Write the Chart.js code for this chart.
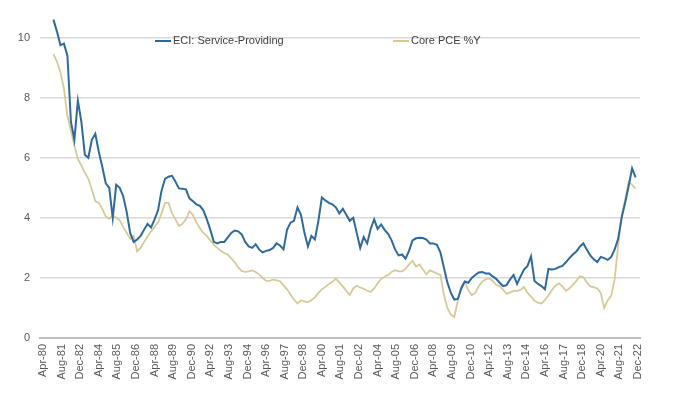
<!DOCTYPE html>
<html lang="en">
<head>
    <meta charset="UTF-8">
    <title>ECI Service-Providing vs Core PCE</title>
    <script src="https://cdn.jsdelivr.net/npm/chart.js"></script>
    <style>
        body {
            margin: 0;
            background: #ffffff;
        }
        #wrap {
            width: 700px;
            height: 394px;
        }
    </style>
</head>
<body>
    <div id="wrap"><canvas id="chart"></canvas></div>

    <script>
        // x axis: months counted from Apr-80, one label every 16 months
        const tickLabels = ['Apr-80', 'Aug-81', 'Dec-82', 'Apr-84', 'Aug-85', 'Dec-86', 'Apr-88', 'Aug-89',
            'Dec-90', 'Apr-92', 'Aug-93', 'Dec-94', 'Apr-96', 'Aug-97', 'Dec-98', 'Apr-00', 'Aug-01',
            'Dec-02', 'Apr-04', 'Aug-05', 'Dec-06', 'Apr-08', 'Aug-09', 'Dec-10', 'Apr-12', 'Aug-13',
            'Dec-14', 'Apr-16', 'Aug-17', 'Dec-18', 'Apr-20', 'Aug-21', 'Dec-22'];
        const labelStep = 16;
        const firstMonth = 9; // Jan-81, then quarterly
        const seriesNames = ['ECI: Service-Providing', 'Core PCE %Y'];
        const yTicks = [0, 2, 4, 6, 8, 10];

        // quarterly values, Jan-81 .. Oct-22
        const eci = [
            10.6, 10.2, 9.75, 9.8,   9.4, 7.2, 6.6, 7.9,   7.2, 6.1, 6.0, 6.6,   6.8, 6.2, 5.7, 5.15,
            5.0, 4.0, 5.1, 5.0,      4.72, 4.2, 3.5, 3.2,  3.28, 3.4, 3.6, 3.8,  3.68, 3.95, 4.25, 4.9,
            5.3, 5.37, 5.4, 5.2,     4.98, 4.97, 4.95, 4.65, 4.55, 4.45, 4.4, 4.25, 3.95, 3.6, 3.2, 3.15,
            3.2, 3.2, 3.35, 3.5,     3.58, 3.55, 3.45, 3.2, 3.05, 3.0, 3.12, 2.95, 2.85, 2.9, 2.93, 3.0,
            3.15, 3.08, 2.95, 3.6,   3.84, 3.9, 4.35, 4.1, 3.5, 3.05, 3.4, 3.28,  3.9, 4.68, 4.58, 4.5,
            4.45, 4.35, 4.15, 4.3,   4.1, 3.9, 4.0, 3.5,   3.0, 3.36, 3.15, 3.63, 3.95, 3.63, 3.78, 3.6,
            3.47, 3.25, 2.95, 2.75,  2.78, 2.64, 2.9, 3.25, 3.32, 3.34, 3.33, 3.28, 3.15, 3.15, 3.1, 2.85,
            2.35, 1.85, 1.5, 1.28,   1.3, 1.65, 1.88, 1.84, 2.0, 2.1, 2.18, 2.2,  2.15, 2.15, 2.05, 1.97,
            1.84, 1.73, 1.76, 1.95,  2.1, 1.8, 2.05, 2.28, 2.4, 2.72, 1.9, 1.8,   1.73, 1.62, 2.3, 2.28,
            2.3, 2.36, 2.4, 2.52,    2.66, 2.78, 2.88, 3.04, 3.15, 2.95, 2.75, 2.62, 2.53, 2.7, 2.66, 2.6,
            2.7, 2.95, 3.3, 4.0,     4.5, 5.05, 5.65, 5.35
        ];
        const corePce = [
            9.45, 9.2, 8.85, 8.3,    7.4, 6.9, 6.4, 5.95,  5.75, 5.5, 5.3, 4.95,  4.55, 4.5, 4.3, 4.05,
            3.97, 4.08, 4.0, 3.92,   3.7, 3.5, 3.3, 3.4,   2.88, 3.0, 3.2, 3.38,  3.55, 3.7, 3.85, 4.15,
            4.5, 4.5, 4.15, 3.95,    3.73, 3.8, 3.95, 4.22, 4.1, 3.85, 3.65, 3.5, 3.4, 3.25, 3.1, 3.0,
            2.9, 2.83, 2.78, 2.65,   2.52, 2.35, 2.23, 2.2, 2.22, 2.25, 2.2, 2.12, 2.0, 1.9, 1.9, 1.94,
            1.92, 1.89, 1.75, 1.62,  1.45, 1.28, 1.15, 1.25, 1.22, 1.2, 1.26, 1.35, 1.5, 1.62, 1.7, 1.8,
            1.87, 1.97, 1.85, 1.72,  1.57, 1.43, 1.65, 1.74, 1.68, 1.64, 1.58, 1.53, 1.65, 1.82, 1.97, 2.04,
            2.1, 2.2, 2.26, 2.22,    2.22, 2.3, 2.45, 2.57, 2.38, 2.45, 2.28, 2.12, 2.25, 2.2, 2.15, 2.1,
            1.45, 1.0, 0.78, 0.7,    1.25, 1.72, 1.88, 1.6, 1.42, 1.5, 1.72, 1.88, 1.95, 1.99, 1.9, 1.77,
            1.73, 1.6, 1.47, 1.52,   1.57, 1.57, 1.6, 1.7,  1.5, 1.38, 1.24, 1.18, 1.15, 1.27, 1.42, 1.6,
            1.74, 1.82, 1.72, 1.57,  1.65, 1.77, 1.9, 2.05, 2.03, 1.85, 1.72, 1.69, 1.65, 1.5, 1.0, 1.26,
            1.4, 1.95, 3.1, 4.1,     4.6, 5.2, 5.1, 4.97
        ];

        const colors = ['#2f6a9b', '#d6cb98'];
        const toPoints = values => values.map((v, i) => ({ x: firstMonth + i * 3, y: v }));

        // legend drawn inside the plot, like the original
        const innerLegend = {
            id: 'innerLegend',
            afterDraw(chart) {
                const ctx = chart.ctx;
                const y = 41;
                const starts = [155, 393];
                ctx.save();
                ctx.font = '11px "Liberation Sans", Arial, sans-serif';
                ctx.textBaseline = 'middle';
                chart.data.datasets.forEach((ds, i) => {
                    ctx.strokeStyle = ds.borderColor;
                    ctx.lineWidth = 2;
                    ctx.beginPath();
                    ctx.moveTo(starts[i], y);
                    ctx.lineTo(starts[i] + 16, y);
                    ctx.stroke();
                    ctx.fillStyle = '#404040';
                    ctx.fillText(ds.label, starts[i] + 18, y);
                });
                ctx.restore();
            }
        };

        new Chart(document.getElementById('chart'), {
            type: 'line',
            data: {
                datasets: [
                    {
                        label: seriesNames[0],
                        data: toPoints(eci),
                        borderColor: colors[0],
                        borderWidth: 2,
                        pointRadius: 0,
                        tension: 0
                    },
                    {
                        label: seriesNames[1],
                        data: toPoints(corePce),
                        borderColor: colors[1],
                        borderWidth: 1.8,
                        pointRadius: 0,
                        tension: 0
                    }
                ]
            },
            options: {
                responsive: true,
                maintainAspectRatio: false,
                animation: false,
                layout: { padding: { left: 0, right: 60, top: 0, bottom: 0 } },
                plugins: {
                    legend: { display: false },
                    tooltip: { enabled: false }
                },
                scales: {
                    x: {
                        type: 'linear',
                        min: -2.6,
                        max: 513.8,
                        afterBuildTicks: s => {
                            s.ticks = tickLabels.map((t, i) => ({ value: i * labelStep }));
                        },
                        afterFit: s => { s.height = 56; },
                        grid: { display: false, drawTicks: false },
                        border: { display: true, color: '#bfbfbf', width: 2 },
                        ticks: {
                            autoSkip: false,
                            minRotation: 90,
                            maxRotation: 90,
                            padding: 6,
                            color: '#595959',
                            font: { family: '"Liberation Sans", Arial, sans-serif', size: 11 },
                            callback: (v) => tickLabels[Math.round(v / labelStep)]
                        }
                    },
                    y: {
                        min: 0,
                        max: 10.7,
                        afterBuildTicks: s => {
                            s.ticks = yTicks.map(v => ({ value: v }));
                        },
                        afterFit: s => { s.width = 40; },
                        grid: {
                            color: ctx => ctx.tick.value === 0 ? 'rgba(0,0,0,0)' : '#d9d9d9',
                            lineWidth: 1.5,
                            drawTicks: false
                        },
                        border: { display: false },
                        ticks: {
                            padding: 10,
                            color: '#595959',
                            font: { family: '"Liberation Sans", Arial, sans-serif', size: 11 }
                        }
                    }
                }
            },
            plugins: [innerLegend]
        });
    </script>
</body>
</html>
